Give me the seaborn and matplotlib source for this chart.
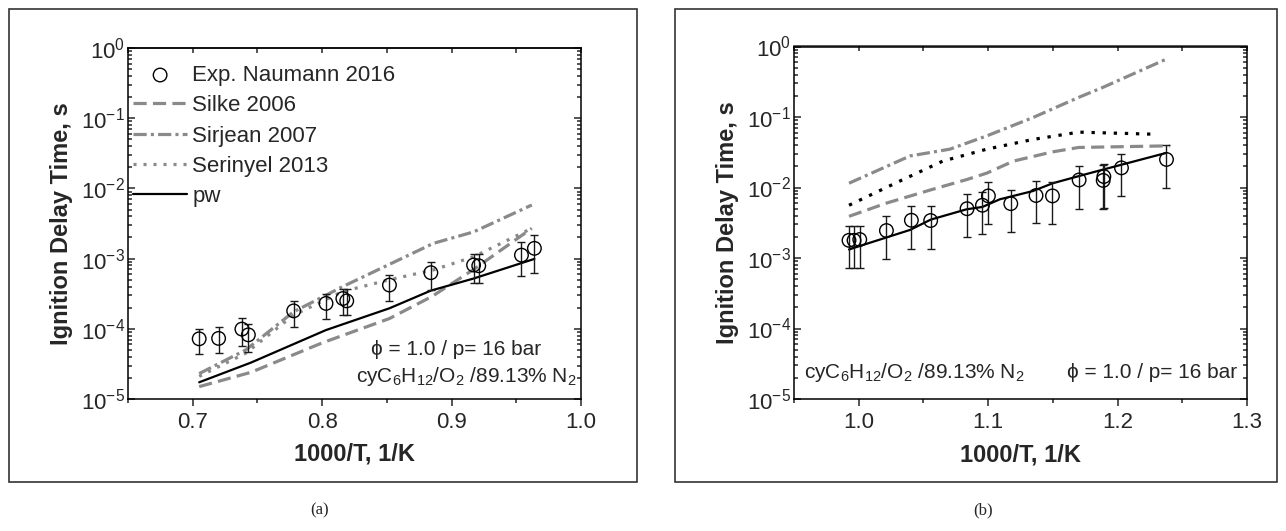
import numpy as np
import matplotlib
matplotlib.use("Agg")
import matplotlib.pyplot as plt
import seaborn as sns
from matplotlib.patches import Rectangle
from matplotlib.ticker import MultipleLocator, LogLocator, FuncFormatter, NullFormatter, FormatStrFormatter

# ---------------- data: panel (a) ----------------
a_exp_x = [0.705, 0.720, 0.738, 0.743, 0.778, 0.803, 0.816, 0.819, 0.852, 0.884, 0.917, 0.921, 0.954, 0.964]
a_exp_y = [7.2e-5, 7.3e-5, 9.9e-5, 8.2e-5, 1.8e-4, 2.3e-4, 2.7e-4, 2.5e-4, 4.2e-4, 6.3e-4, 8.1e-4, 7.9e-4, 1.12e-3, 1.4e-3]
a_exp_lo = [4.4e-5, 4.5e-5, 5.6e-5, 4.6e-5, 1.07e-4, 1.38e-4, 1.58e-4, 1.58e-4, 2.5e-4, 3.6e-4, 4.45e-4, 4.45e-4, 5.6e-4, 6.3e-4]
a_exp_hi = [1.0e-4, 1.05e-4, 1.44e-4, 1.16e-4, 2.5e-4, 3.1e-4, 3.65e-4, 3.65e-4, 5.8e-4, 9.0e-4, 1.16e-3, 1.16e-3, 1.7e-3, 2.17e-3]

a_silke_x = [0.705, 0.745, 0.80, 0.852, 0.885, 0.917, 0.962]
a_silke_y = [1.5e-5, 2.4e-5, 6.3e-5, 1.4e-4, 2.9e-4, 7.0e-4, 2.7e-3]
a_sirjean_x = [0.705, 0.741, 0.778, 0.816, 0.886, 0.917, 0.962]
a_sirjean_y = [2.3e-5, 5.0e-5, 1.75e-4, 4.0e-4, 1.65e-3, 2.4e-3, 5.8e-3]
a_serinyel_x = [0.705, 0.741, 0.778, 0.816, 0.852, 0.886, 0.917, 0.962]
a_serinyel_y = [2.1e-5, 4.5e-5, 1.57e-4, 3.4e-4, 5.0e-4, 6.9e-4, 1.06e-3, 2.7e-3]
a_pw_x = [0.705, 0.745, 0.803, 0.852, 0.884, 0.917, 0.964]
a_pw_y = [1.73e-5, 3.3e-5, 9.6e-5, 1.96e-4, 3.5e-4, 5.2e-4, 9.9e-4]

# ---------------- data: panel (b) ----------------
b_exp_x = [0.9925, 0.9964, 1.0008, 1.0214, 1.0407, 1.0556, 1.0837, 1.0956, 1.1002, 1.1175, 1.137, 1.1497,
           1.1703, 1.1889, 1.1894, 1.203, 1.2378]
b_exp_y = [1.78e-3, 1.78e-3, 1.83e-3, 2.45e-3, 3.43e-3, 3.4e-3, 5.0e-3, 5.6e-3, 7.6e-3, 5.9e-3, 7.7e-3, 7.6e-3,
           1.28e-2, 1.26e-2, 1.43e-2, 1.9e-2, 2.5e-2]
b_exp_lo = [7.2e-4, 7.2e-4, 7.2e-4, 9.7e-4, 1.36e-3, 1.36e-3, 2.0e-3, 2.2e-3, 3.0e-3, 2.3e-3, 3.1e-3, 3.0e-3,
            5.0e-3, 5.0e-3, 5.2e-3, 7.6e-3, 1.0e-2]
b_exp_hi = [2.8e-3, 2.8e-3, 2.8e-3, 3.9e-3, 5.4e-3, 5.4e-3, 8.0e-3, 8.7e-3, 1.19e-2, 9.1e-3, 1.23e-2, 1.19e-2,
            2.0e-2, 2.1e-2, 2.14e-2, 3.0e-2, 3.97e-2]

b_pw_x = [0.9925, 1.0008, 1.0396, 1.0556, 1.0832, 1.0956, 1.109, 1.1345, 1.150, 1.170, 1.189, 1.2378]
b_pw_y = [1.32e-3, 1.48e-3, 2.5e-3, 3.5e-3, 4.9e-3, 5.3e-3, 6.8e-3, 8.9e-3, 1.15e-2, 1.45e-2, 1.8e-2, 3.1e-2]
b_silke_x = [0.9925, 1.0214, 1.056, 1.0837, 1.099, 1.1196, 1.1497, 1.170, 1.2403]
b_silke_y = [3.9e-3, 6.0e-3, 9.3e-3, 1.3e-2, 1.6e-2, 2.37e-2, 3.2e-2, 3.7e-2, 3.9e-2]
b_serinyel_x = [0.9925, 1.0316, 1.065, 1.099, 1.1345, 1.170, 1.1985, 1.228]
b_serinyel_y = [5.6e-3, 1.23e-2, 2.37e-2, 3.5e-2, 4.8e-2, 6.1e-2, 5.9e-2, 5.7e-2]
b_sirjean_x = [0.9925, 1.0396, 1.0705, 1.099, 1.1345, 1.170, 1.188, 1.2391]
b_sirjean_y = [1.15e-2, 2.8e-2, 3.5e-2, 5.4e-2, 9.8e-2, 0.19, 0.26, 0.68]

labels = ["Exp. Naumann 2016", "Silke 2006", "Sirjean 2007", "Serinyel 2013", "pw"]
mixture_text = r"cyC$_6$H$_{12}$/O$_2$ /89.13% N$_2$"
cond_text = "\u03d5 = 1.0 / p= 16 bar"
xlabel = "1000/T, 1/K"
ylabel = "Ignition Delay Time, s"

# ---------------- style ----------------
sns.set_style("ticks")
plt.rcParams.update({
    "font.family": ["Liberation Sans", "DejaVu Sans"],
    "mathtext.fontset": "custom",
    "mathtext.rm": "Liberation Sans",
    "mathtext.it": "Liberation Sans:italic",
    "mathtext.bf": "Liberation Sans:bold",
    "lines.scale_dashes": False,
    "axes.linewidth": 1.1,
})

GRAY = "#8a8a8a"
FS = 16

W, H = 1286, 531
fig = plt.figure(figsize=(W / 100, H / 100), dpi=100)


def px_axes(l, r, t, b):
    return [l / W, 1 - b / H, (r - l) / W, (b - t) / H]


def line(ax, x, y, color, lw, dashes, label):
    sns.lineplot(x=x, y=y, ax=ax, color=color, linewidth=lw, label=label, sort=False,
                 estimator=None, legend=False)
    ln = ax.get_lines()[-1]
    if dashes is not None:
        ln.set_dashes(dashes)
        ln.set_dash_capstyle("butt")
    return ln


def panel(ax, xlim, ex, ey, elo, ehi, silke, sirjean, serinyel, pw, ser_color, ser_dash):
    ax.set_yscale("log")
    h_s = line(ax, silke[0], silke[1], GRAY, 2.3, (9.5, 4.5), labels[1])
    h_j = line(ax, sirjean[0], sirjean[1], GRAY, 2.3, (9.5, 3.0, 2.2, 3.0), labels[2])
    h_r = line(ax, serinyel[0], serinyel[1], ser_color, 2.3, ser_dash, labels[3])
    h_p = line(ax, pw[0], pw[1], "black", 1.6, None, labels[4])
    ey_a = np.array(ey)
    ax.errorbar(ex, ey, yerr=[ey_a - np.array(elo), np.array(ehi) - ey_a], fmt="none",
                ecolor="#1a1a1a", elinewidth=1.0, capsize=3, capthick=1.0, zorder=3)
    sns.scatterplot(x=ex, y=ey, ax=ax, marker="o", s=95, facecolors="none",
                    edgecolor="black", linewidth=1.0, zorder=4, label=labels[0], legend=False)
    h_e = ax.collections[-1]

    ax.set_xlim(*xlim)
    ax.set_ylim(1e-5, 1)
    ax.xaxis.set_major_locator(MultipleLocator(0.1))
    ax.xaxis.set_minor_locator(MultipleLocator(0.05))
    ax.xaxis.set_major_formatter(FormatStrFormatter("%.1f"))
    ax.yaxis.set_major_locator(LogLocator(base=10, numticks=10))
    ax.yaxis.set_minor_locator(LogLocator(base=10, subs=np.arange(2, 10), numticks=20))
    ax.yaxis.set_minor_formatter(NullFormatter())
    ax.yaxis.set_major_formatter(FuncFormatter(lambda v, p: r"10$^{%d}$" % int(round(np.log10(v)))))

    ax.tick_params(axis="x", which="both", direction="out", bottom=True, top=False,
                   labelsize=FS, pad=4, width=1.1)
    ax.tick_params(axis="x", which="major", length=5)
    ax.tick_params(axis="x", which="minor", length=3)
    ax.tick_params(axis="y", which="both", direction="in", left=True, right=True,
                   labelsize=FS, pad=2, width=1.1)
    ax.tick_params(axis="y", which="major", length=5)
    ax.tick_params(axis="y", which="minor", length=2.6)

    sec = ax.secondary_xaxis("top")
    sec.xaxis.set_major_locator(MultipleLocator(0.05))
    sec.tick_params(axis="x", which="major", direction="in", length=3.6, width=1.1, labeltop=False)
    sec.xaxis.set_minor_locator(MultipleLocator(1.0))
    sec.tick_params(axis="x", which="minor", length=0)

    ax.set_xlabel(xlabel, fontsize=FS + 1, fontweight="bold")
    ax.set_ylabel(ylabel, fontsize=FS + 1, fontweight="bold")
    ax.xaxis.set_label_coords(0.5, -0.125)
    ax.yaxis.set_label_coords(-0.122, 0.5)
    for s in ax.spines.values():
        s.set_visible(True)
        s.set_color("black")
        s.set_linewidth(1.1)
    return [h_e, h_s, h_j, h_r, h_p]


ax_a = fig.add_axes(px_axes(128, 581, 48, 399))
ax_b = fig.add_axes(px_axes(794, 1247, 46.5, 399))

handles = panel(ax_a, (0.65, 1.0), a_exp_x, a_exp_y, a_exp_lo, a_exp_hi,
                (a_silke_x, a_silke_y), (a_sirjean_x, a_sirjean_y),
                (a_serinyel_x, a_serinyel_y), (a_pw_x, a_pw_y), GRAY, (2.2, 5.0))
panel(ax_b, (0.95, 1.3), b_exp_x, b_exp_y, b_exp_lo, b_exp_hi,
      (b_silke_x, b_silke_y), (b_sirjean_x, b_sirjean_y),
      (b_serinyel_x, b_serinyel_y), (b_pw_x, b_pw_y), "black", (2.4, 5.6))

ax_a.legend(handles, labels, loc="upper left", bbox_to_anchor=(0.012, 0.952), frameon=False,
            fontsize=FS, borderaxespad=0, borderpad=0, handlelength=2.4, handletextpad=0.25,
            labelspacing=0.42)

FS_T = 15
ax_a.text(0.724, 0.125, cond_text, transform=ax_a.transAxes, ha="center", va="baseline", fontsize=FS_T)
ax_a.text(0.99, 0.049, mixture_text, transform=ax_a.transAxes, ha="right", va="baseline", fontsize=FS_T)
ax_b.text(0.022, 0.06, mixture_text, transform=ax_b.transAxes, ha="left", va="baseline", fontsize=FS_T)
ax_b.text(0.978, 0.06, cond_text, transform=ax_b.transAxes, ha="right", va="baseline", fontsize=FS_T)

# panel frames
for (l, r) in [(9, 637), (675, 1277)]:
    fig.add_artist(Rectangle((l / W, 1 - 482 / H), (r - l) / W, (482 - 9) / H,
                             transform=fig.transFigure, fill=False, edgecolor="#333333", linewidth=1.2))

fig.text(320 / W, 1 - 510 / H, "(a)", ha="center", va="center", fontsize=12, family="Liberation Serif")
fig.text(983 / W, 1 - 510 / H, "(b)", ha="center", va="center", fontsize=12, family="Liberation Serif")

fig.savefig("out.png", dpi=100)
